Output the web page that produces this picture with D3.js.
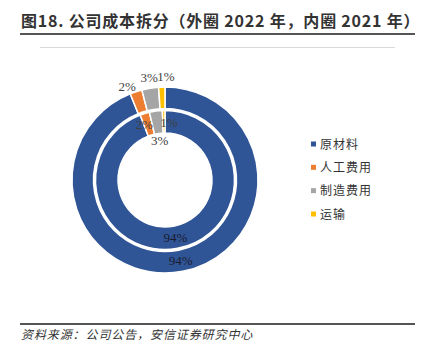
<!DOCTYPE html>
<html><head><meta charset="utf-8">
<script src="https://cdn.jsdelivr.net/npm/d3@7"></script>
<style>
html,body{margin:0;padding:0;background:#fff;}
svg{display:block;}
</style></head>
<body>
<svg id="c" width="427" height="353"></svg>
<script>
const categories = ["原材料", "人工费用", "制造费用", "运输"];
const colors = ["#2F5597", "#ED7D31", "#A5A5A5", "#FFC000"];
const outer2022 = [93.9, 2.1, 2.9, 1.1];
const inner2021 = [94.2, 2.2, 3.0, 0.6];
const outerLabels = ["94%", "2%", "3%", "1%"];
const innerLabels = ["94%", "2%", "3%", "1%"];
const title = "图18. 公司成本拆分（外圈 2022 年，内圈 2021 年）";
const source = "资料来源：公司公告，安信证券研究中心";

const svg = d3.select("#c");
const cjk = "'Noto Sans CJK SC', 'Noto Sans', sans-serif";

// title
svg.append("text").attr("x", 21).attr("y", 27)
  .attr("font-family", cjk).attr("font-weight", "bold").attr("font-size", 16)
  .attr("letter-spacing", 0.8)
  .attr("fill", "#333").text(title);
svg.append("line").attr("x1", 20).attr("x2", 415).attr("y1", 34).attr("y2", 34)
  .attr("stroke", "#555").attr("stroke-width", 2);
svg.append("line").attr("x1", 40).attr("x2", 395).attr("y1", 47.5).attr("y2", 47.5)
  .attr("stroke", "#d9d9d9").attr("stroke-width", 1);

// bottom
svg.append("line").attr("x1", 20).attr("x2", 415).attr("y1", 324).attr("y2", 324)
  .attr("stroke", "#555").attr("stroke-width", 2);
svg.append("text").attr("x", 21).attr("y", 339)
  .attr("font-family", cjk).attr("font-style", "italic").attr("font-size", 12)
  .attr("letter-spacing", 0.9)
  .attr("fill", "#333").text(source);

const cx = 165, cy = 180;
const g = svg.append("g").attr("transform", `translate(${cx},${cy})`);
const pie = d3.pie().sort(null).value(d => d).startAngle(0).endAngle(2 * Math.PI);

const outerArc = d3.arc().innerRadius(71.5).outerRadius(93);
const innerArc = d3.arc().innerRadius(47).outerRadius(69.5);

const oData = pie(outer2022);
const iData = pie(inner2021);

g.selectAll("path.o").data(oData).join("path").attr("class", "o")
  .attr("d", outerArc).attr("fill", (d, i) => colors[i])
  .attr("stroke", "#fff").attr("stroke-width", 1.5);
g.selectAll("path.i").data(iData).join("path").attr("class", "i")
  .attr("d", innerArc).attr("fill", (d, i) => colors[i])
  .attr("stroke", "#fff").attr("stroke-width", 1.5);

const pctFont = "'Liberation Serif', 'DejaVu Serif', serif";
function lab(d, r) {
  const a = (d.startAngle + d.endAngle) / 2;
  return [Math.sin(a) * r, -Math.cos(a) * r];
}
// outer labels (small nudges to mimic the reference's placement)
const oR = [82, 102, 103, 104];
const oDx = [0, -6, 0.5, 4.5];
const oDy = [0, 3, -1, 0];
g.selectAll("text.o").data(oData).join("text").attr("class", "o")
  .attr("x", (d, i) => lab(d, oR[i])[0] + oDx[i])
  .attr("y", (d, i) => lab(d, oR[i])[1] + 4.5 + oDy[i])
  .attr("text-anchor", "middle").attr("font-family", pctFont).attr("font-size", 13)
  .attr("fill", (d, i) => i === 0 ? "#1a1a2e" : "#404040")
  .text((d, i) => outerLabels[i]);
// inner labels
const iR = [58, 58, 40, 58];
const iDx = [0, -4, 0, 5];
g.selectAll("text.i").data(iData).join("text").attr("class", "i")
  .attr("x", (d, i) => lab(d, iR[i])[0] + iDx[i])
  .attr("y", (d, i) => lab(d, iR[i])[1] + 4.5)
  .attr("text-anchor", "middle").attr("font-family", pctFont).attr("font-size", 13)
  .attr("fill", (d, i) => i === 0 ? "#1a1a2e" : "#404040")
  .text((d, i) => innerLabels[i]);

// legend
const ly = d3.scalePoint().domain(categories).range([144, 214]);
const lg = svg.append("g");
lg.selectAll("rect").data(categories).join("rect")
  .attr("x", 311).attr("y", d => ly(d) - 2.5).attr("width", 5).attr("height", 5)
  .attr("fill", (d, i) => colors[i]);
lg.selectAll("text").data(categories).join("text")
  .attr("x", 320).attr("y", d => ly(d) + 4.5)
  .attr("font-family", cjk).attr("font-size", 12).attr("letter-spacing", 1)
  .attr("fill", "#333")
  .text(d => d);
</script>
</body></html>
